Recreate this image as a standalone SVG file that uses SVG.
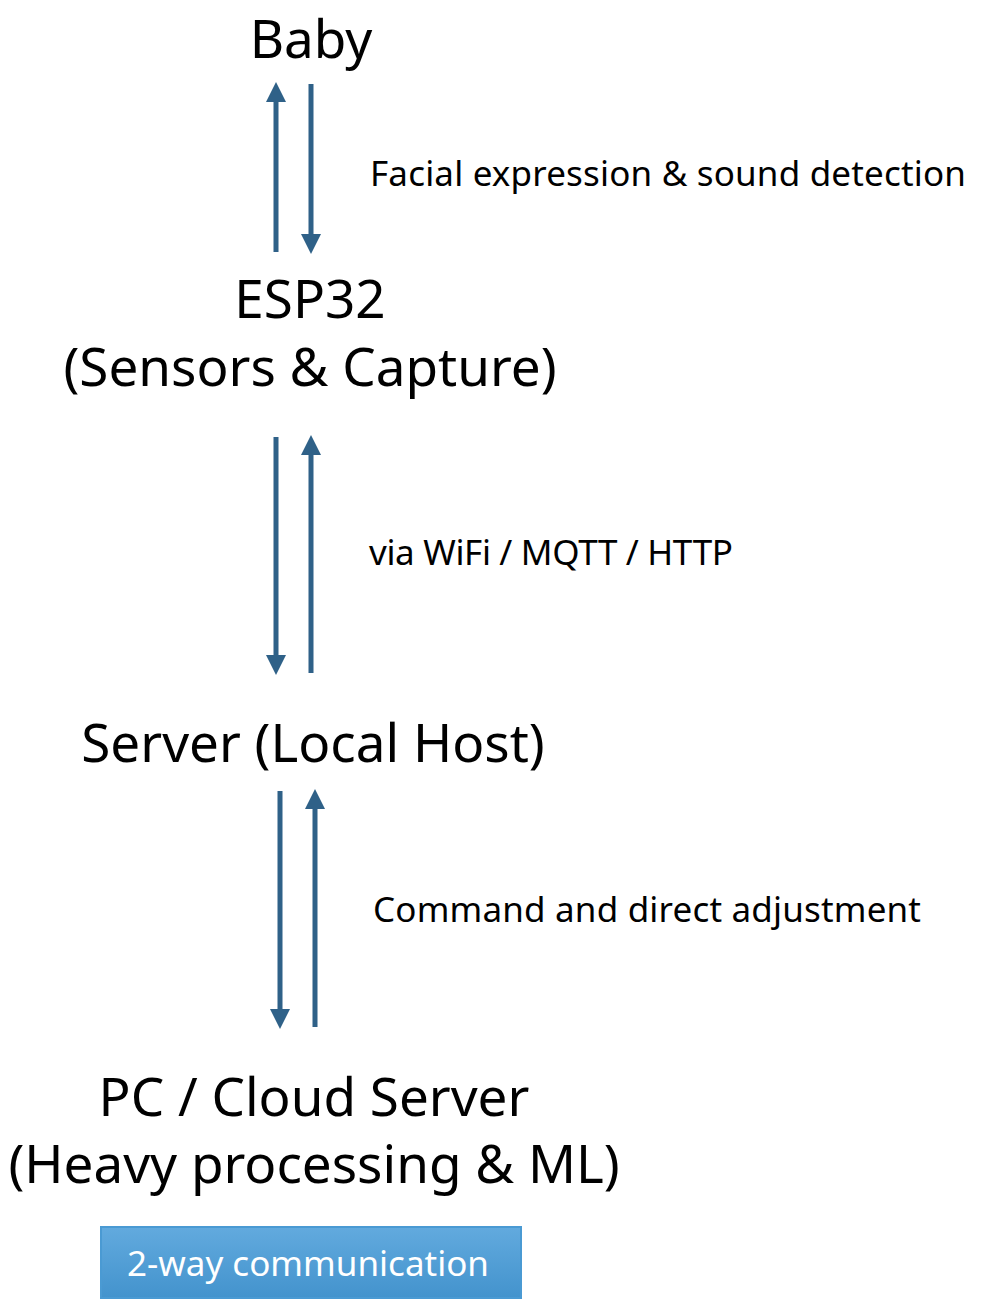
<svg xmlns="http://www.w3.org/2000/svg" width="984" height="1314" viewBox="0 0 984 1314">
<style>
.big{font-family:"Noto Sans","Liberation Sans",sans-serif;font-size:53px;fill:#000;text-anchor:middle}
.lbl{font-family:"Noto Sans","Liberation Sans",sans-serif;font-size:35px;fill:#000}
.btn{font-family:"Noto Sans","Liberation Sans",sans-serif;font-size:35px;fill:#fff;text-anchor:middle}
.ar{stroke:#2f6188;stroke-width:5;fill:none}
</style>
<defs>
<marker id="ah" viewBox="0 0 10 10" refX="0" refY="5" markerWidth="4" markerHeight="4" markerUnits="strokeWidth" orient="auto"><path d="M0,0 L10,5 L0,10 z" fill="#2f6188"/></marker>
<linearGradient id="bg" x1="0" y1="0" x2="0" y2="1"><stop offset="0" stop-color="#62aade"/><stop offset="1" stop-color="#4393cd"/></linearGradient>
</defs>
<g id="connectors">
<line class="ar" x1="276" y1="252" x2="276" y2="102" marker-end="url(#ah)"/>
<line class="ar" x1="311" y1="84" x2="311" y2="234" marker-end="url(#ah)"/>
<line class="ar" x1="276" y1="437" x2="276" y2="655" marker-end="url(#ah)"/>
<line class="ar" x1="311" y1="673" x2="311" y2="455" marker-end="url(#ah)"/>
<line class="ar" x1="280" y1="791" x2="280" y2="1009" marker-end="url(#ah)"/>
<line class="ar" x1="315" y1="1027" x2="315" y2="809" marker-end="url(#ah)"/>
<text class="lbl" x="370" y="186" textLength="596">Facial expression &amp; sound detection</text>
<text class="lbl" x="369" y="565" textLength="364">via WiFi / MQTT / HTTP</text>
<text class="lbl" x="373" y="922" textLength="548">Command and direct adjustment</text>
</g>
<g id="baby"><text class="big" x="311" y="58">Baby</text></g>
<g id="esp32"><text class="big" x="310" y="318">ESP32</text><text class="big" x="310" y="386">(Sensors &amp; Capture)</text></g>
<g id="server"><text class="big" x="313" y="762">Server (Local Host)</text></g>
<g id="pc"><text class="big" x="314" y="1116">PC / Cloud Server</text><text class="big" x="314" y="1183">(Heavy processing &amp; ML)</text></g>
<g id="legend"><rect x="101" y="1227" width="420" height="71" fill="url(#bg)" stroke="#4a9ad3" stroke-width="2"/><text class="btn" x="308" y="1276">2-way communication</text></g>
</svg>
